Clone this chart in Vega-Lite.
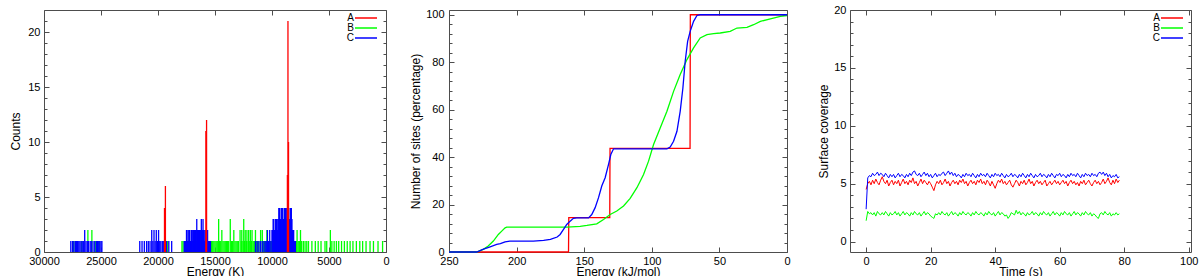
{
"$schema": "https://vega.github.io/schema/vega-lite/v6.json",
"padding": {"left": 9, "top": 3, "right": 0, "bottom": 0},
"bounds": "flush",
"spacing": 63,
"config": {
 "font": "Liberation Sans",
 "view": {"stroke": "#4d4d4d", "strokeWidth": 1},
 "axis": {"labelFont": "Liberation Sans", "labelFontSize": 11, "labelColor": "#000", "titleFont": "Liberation Sans", "titleFontSize": 12, "titleFontWeight": "normal", "titleColor": "#000", "domain": false, "grid": false, "tickColor": "#4d4d4d", "tickWidth": 1, "labelFlush": false, "labelOverlap": false, "format": "d"},
 "legend": {"labelFont": "Liberation Sans"}
},
"resolve": {"scale": {"color": "independent"}, "legend": {"color": "independent"}},
"datasets": {
 "hist": [
  {"s":"B","e":27400,"n":1},{"s":"B","e":27250,"n":1},{"s":"B","e":26700,"n":1},{"s":"B","e":26150,"n":2},{"s":"B","e":25800,"n":2},{"s":"B","e":25500,"n":1},{"s":"B","e":25150,"n":1},{"s":"B","e":19150,"n":1},
  {"s":"B","e":17900,"n":1},{"s":"B","e":17800,"n":1},{"s":"B","e":17650,"n":1},{"s":"B","e":17500,"n":1},{"s":"B","e":17350,"n":1},{"s":"B","e":17200,"n":1},{"s":"B","e":17050,"n":1},{"s":"B","e":16900,"n":1},{"s":"B","e":16750,"n":1},{"s":"B","e":16600,"n":1},{"s":"B","e":16450,"n":1},{"s":"B","e":16300,"n":1},{"s":"B","e":16150,"n":1},{"s":"B","e":16000,"n":1},{"s":"B","e":15850,"n":1},{"s":"B","e":15700,"n":1},{"s":"B","e":15550,"n":1},{"s":"B","e":15400,"n":1},{"s":"B","e":15300,"n":1},{"s":"B","e":15200,"n":1},{"s":"B","e":15100,"n":1},{"s":"B","e":15000,"n":1},{"s":"B","e":14900,"n":1},{"s":"B","e":14800,"n":1},{"s":"B","e":14680,"n":3},{"s":"B","e":14600,"n":1},{"s":"B","e":14500,"n":1},{"s":"B","e":14400,"n":2},{"s":"B","e":14300,"n":1},{"s":"B","e":14200,"n":1},{"s":"B","e":14100,"n":1},{"s":"B","e":14000,"n":1},{"s":"B","e":13900,"n":1},{"s":"B","e":13800,"n":1},{"s":"B","e":13660,"n":3},{"s":"B","e":13550,"n":1},{"s":"B","e":13450,"n":1},{"s":"B","e":13350,"n":2},{"s":"B","e":13250,"n":1},{"s":"B","e":13150,"n":1},{"s":"B","e":13050,"n":1},{"s":"B","e":12950,"n":1},{"s":"B","e":12800,"n":2},{"s":"B","e":12700,"n":1},{"s":"B","e":12650,"n":2},{"s":"B","e":12550,"n":1},{"s":"B","e":12480,"n":3},{"s":"B","e":12400,"n":1},{"s":"B","e":12350,"n":2},{"s":"B","e":12250,"n":1},{"s":"B","e":12200,"n":2},{"s":"B","e":12100,"n":1},{"s":"B","e":12050,"n":2},{"s":"B","e":11950,"n":1},{"s":"B","e":11900,"n":2},{"s":"B","e":11800,"n":1},{"s":"B","e":11750,"n":2},{"s":"B","e":11650,"n":1},{"s":"B","e":11550,"n":1},{"s":"B","e":11450,"n":2},{"s":"B","e":11350,"n":1},{"s":"B","e":11250,"n":1},{"s":"B","e":11150,"n":1},{"s":"B","e":11000,"n":2},{"s":"B","e":10850,"n":2},{"s":"B","e":10750,"n":1},{"s":"B","e":10650,"n":1},{"s":"B","e":10550,"n":1},{"s":"B","e":10450,"n":2},{"s":"B","e":10350,"n":1},{"s":"B","e":10250,"n":1},{"s":"B","e":10150,"n":1},{"s":"B","e":10050,"n":1},{"s":"B","e":9950,"n":1},{"s":"B","e":9850,"n":2},{"s":"B","e":9750,"n":1},{"s":"B","e":9650,"n":1},{"s":"B","e":9550,"n":1},{"s":"B","e":9450,"n":1},{"s":"B","e":9350,"n":1},{"s":"B","e":9250,"n":1},{"s":"B","e":9150,"n":1},{"s":"B","e":9050,"n":1},{"s":"B","e":8950,"n":1},{"s":"B","e":8850,"n":1},{"s":"B","e":8750,"n":1},{"s":"B","e":8650,"n":1},{"s":"B","e":8550,"n":1},{"s":"B","e":8450,"n":1},{"s":"B","e":8350,"n":1},{"s":"B","e":8250,"n":1},{"s":"B","e":8150,"n":1},{"s":"B","e":8050,"n":1},{"s":"B","e":7950,"n":1},{"s":"B","e":7850,"n":1},{"s":"B","e":7800,"n":2},{"s":"B","e":7700,"n":1},{"s":"B","e":7600,"n":1},{"s":"B","e":7500,"n":2},{"s":"B","e":7400,"n":1},{"s":"B","e":7250,"n":1},{"s":"B","e":7100,"n":1},{"s":"B","e":6950,"n":1},{"s":"B","e":6800,"n":1},{"s":"B","e":6500,"n":1},{"s":"B","e":6200,"n":1},{"s":"B","e":5950,"n":1},{"s":"B","e":5700,"n":1},{"s":"B","e":5350,"n":1},{"s":"B","e":5200,"n":1},{"s":"B","e":4880,"n":2},{"s":"B","e":4750,"n":1},{"s":"B","e":4550,"n":1},{"s":"B","e":4350,"n":1},{"s":"B","e":4150,"n":1},{"s":"B","e":3900,"n":1},{"s":"B","e":3650,"n":1},{"s":"B","e":3400,"n":1},{"s":"B","e":3150,"n":1},{"s":"B","e":2900,"n":1},{"s":"B","e":2600,"n":1},{"s":"B","e":2300,"n":1},{"s":"B","e":2050,"n":1},{"s":"B","e":1750,"n":1},{"s":"B","e":1400,"n":1},{"s":"B","e":1100,"n":1},{"s":"B","e":700,"n":1},{"s":"B","e":300,"n":1},
  {"s":"C","e":27650,"n":1},{"s":"C","e":27500,"n":1},{"s":"C","e":27380,"n":1},{"s":"C","e":27250,"n":1},{"s":"C","e":27150,"n":1},{"s":"C","e":27050,"n":1},{"s":"C","e":26950,"n":1},{"s":"C","e":26850,"n":1},{"s":"C","e":26750,"n":1},{"s":"C","e":26650,"n":1},{"s":"C","e":26550,"n":1},{"s":"C","e":26430,"n":2},{"s":"C","e":26320,"n":1},{"s":"C","e":26200,"n":1},{"s":"C","e":26100,"n":1},{"s":"C","e":25950,"n":1},{"s":"C","e":25850,"n":1},{"s":"C","e":25700,"n":1},{"s":"C","e":25550,"n":1},{"s":"C","e":25400,"n":1},{"s":"C","e":25300,"n":1},{"s":"C","e":25200,"n":1},{"s":"C","e":25100,"n":1},{"s":"C","e":25000,"n":1},{"s":"C","e":24920,"n":1},
  {"s":"C","e":21600,"n":1},{"s":"C","e":21400,"n":1},{"s":"C","e":21200,"n":1},{"s":"C","e":21000,"n":1},{"s":"C","e":20850,"n":1},{"s":"C","e":20700,"n":1},{"s":"C","e":20550,"n":2},{"s":"C","e":20450,"n":1},{"s":"C","e":20350,"n":2},{"s":"C","e":20250,"n":1},{"s":"C","e":20150,"n":2},{"s":"C","e":20050,"n":1},{"s":"C","e":19950,"n":2},{"s":"C","e":19850,"n":1},{"s":"C","e":19750,"n":1},{"s":"C","e":19620,"n":1},{"s":"C","e":19500,"n":1},{"s":"C","e":19250,"n":1},{"s":"C","e":19050,"n":1},{"s":"C","e":18800,"n":1},
  {"s":"C","e":17700,"n":1},{"s":"C","e":17650,"n":1},{"s":"C","e":17600,"n":1},{"s":"C","e":17550,"n":1},{"s":"C","e":17500,"n":2},{"s":"C","e":17450,"n":2},{"s":"C","e":17400,"n":1},{"s":"C","e":17350,"n":1},{"s":"C","e":17300,"n":2},{"s":"C","e":17250,"n":2},{"s":"C","e":17200,"n":1},{"s":"C","e":17150,"n":1},{"s":"C","e":17100,"n":2},{"s":"C","e":17050,"n":2},{"s":"C","e":17000,"n":1},{"s":"C","e":16950,"n":2},{"s":"C","e":16900,"n":2},{"s":"C","e":16850,"n":1},{"s":"C","e":16800,"n":2},{"s":"C","e":16750,"n":2},{"s":"C","e":16700,"n":2},{"s":"C","e":16650,"n":2},{"s":"C","e":16600,"n":3},{"s":"C","e":16550,"n":2},{"s":"C","e":16500,"n":2},{"s":"C","e":16450,"n":2},{"s":"C","e":16400,"n":2},{"s":"C","e":16350,"n":2},{"s":"C","e":16300,"n":2},{"s":"C","e":16250,"n":2},{"s":"C","e":16200,"n":3},{"s":"C","e":16150,"n":2},{"s":"C","e":16100,"n":2},{"s":"C","e":16050,"n":3},{"s":"C","e":16000,"n":2},{"s":"C","e":15950,"n":2},{"s":"C","e":15900,"n":1},{"s":"C","e":15850,"n":2},{"s":"C","e":15800,"n":2},{"s":"C","e":15750,"n":2},{"s":"C","e":15700,"n":2},{"s":"C","e":15650,"n":2},{"s":"C","e":15600,"n":1},{"s":"C","e":15550,"n":1},{"s":"C","e":15500,"n":1},{"s":"C","e":15450,"n":1},{"s":"C","e":15400,"n":1},
  {"s":"C","e":11450,"n":1},{"s":"C","e":11300,"n":1},{"s":"C","e":11150,"n":1},{"s":"C","e":11000,"n":1},{"s":"C","e":10850,"n":1},{"s":"C","e":10700,"n":1},{"s":"C","e":10600,"n":1},{"s":"C","e":10500,"n":1},{"s":"C","e":10400,"n":2},{"s":"C","e":10300,"n":1},{"s":"C","e":10200,"n":2},{"s":"C","e":10100,"n":1},{"s":"C","e":10000,"n":2},{"s":"C","e":9950,"n":2},{"s":"C","e":9900,"n":3},{"s":"C","e":9850,"n":3},{"s":"C","e":9800,"n":2},{"s":"C","e":9750,"n":2},{"s":"C","e":9700,"n":3},{"s":"C","e":9650,"n":2},{"s":"C","e":9600,"n":3},{"s":"C","e":9550,"n":3},{"s":"C","e":9500,"n":2},{"s":"C","e":9450,"n":3},{"s":"C","e":9400,"n":4},{"s":"C","e":9350,"n":4},{"s":"C","e":9300,"n":3},{"s":"C","e":9250,"n":3},{"s":"C","e":9200,"n":4},{"s":"C","e":9150,"n":4},{"s":"C","e":9100,"n":4},{"s":"C","e":9050,"n":4},{"s":"C","e":9000,"n":3},{"s":"C","e":8950,"n":3},{"s":"C","e":8900,"n":4},{"s":"C","e":8850,"n":4},{"s":"C","e":8800,"n":4},{"s":"C","e":8750,"n":4},{"s":"C","e":8700,"n":3},{"s":"C","e":8650,"n":3},{"s":"C","e":8600,"n":4},{"s":"C","e":8550,"n":4},{"s":"C","e":8500,"n":3},{"s":"C","e":8450,"n":3},{"s":"C","e":8400,"n":4},{"s":"C","e":8350,"n":4},{"s":"C","e":8300,"n":4},{"s":"C","e":8250,"n":3},{"s":"C","e":8200,"n":2},{"s":"C","e":8150,"n":2},{"s":"C","e":8100,"n":2},{"s":"C","e":8050,"n":1},{"s":"C","e":8000,"n":1},{"s":"C","e":7950,"n":1},
  {"s":"A","e":19430,"n":4},{"s":"A","e":19350,"n":6},{"s":"A","e":15800,"n":11},{"s":"A","e":15740,"n":12},{"s":"A","e":8650,"n":7},{"s":"A","e":8600,"n":21},{"s":"A","e":8550,"n":10}
 ],
 "cdf": [
  {"s":"A","e":250,"v":0},{"s":"A","e":161.6,"v":0},{"s":"A","e":161.4,"v":14.5},{"s":"A","e":131.1,"v":14.5},{"s":"A","e":130.9,"v":43.7},{"s":"A","e":71.7,"v":43.7},{"s":"A","e":71.5,"v":100},{"s":"A","e":0,"v":100},
  {"s":"B","e":250,"v":0},{"s":"B","e":229.5,"v":0},{"s":"B","e":224.6,"v":1.1},{"s":"B","e":221,"v":2.5},{"s":"B","e":217.2,"v":4.6},{"s":"B","e":213.5,"v":7.4},{"s":"B","e":211,"v":8.8},{"s":"B","e":208.5,"v":10.2},{"s":"B","e":207.3,"v":10.5},{"s":"B","e":162.9,"v":10.5},{"s":"B","e":153,"v":10.8},{"s":"B","e":148,"v":11.2},{"s":"B","e":140.7,"v":11.9},{"s":"B","e":135.7,"v":13.7},{"s":"B","e":130.8,"v":15.8},{"s":"B","e":125.9,"v":17.3},{"s":"B","e":120.9,"v":19.4},{"s":"B","e":116,"v":22.6},{"s":"B","e":111,"v":27.1},{"s":"B","e":106.1,"v":32.7},{"s":"B","e":102.4,"v":38.3},{"s":"B","e":98.7,"v":45.3},{"s":"B","e":93.8,"v":52.3},{"s":"B","e":88.8,"v":59.3},{"s":"B","e":83.9,"v":67.7},{"s":"B","e":79,"v":74.8},{"s":"B","e":74,"v":81.1},{"s":"B","e":69.1,"v":86},{"s":"B","e":64.2,"v":90.2},{"s":"B","e":59.2,"v":91.6},{"s":"B","e":54.3,"v":92},{"s":"B","e":49.4,"v":92.3},{"s":"B","e":42,"v":93},{"s":"B","e":37,"v":94.4},{"s":"B","e":29.6,"v":94.7},{"s":"B","e":24.7,"v":95.8},{"s":"B","e":19.7,"v":97.2},{"s":"B","e":12.3,"v":98.3},{"s":"B","e":4.9,"v":99.3},{"s":"B","e":0,"v":99.6},
  {"s":"C","e":250,"v":0},{"s":"C","e":229.5,"v":0},{"s":"C","e":225,"v":1.1},{"s":"C","e":219.6,"v":2.2},{"s":"C","e":214.7,"v":3.2},{"s":"C","e":212,"v":3.5},{"s":"C","e":208.5,"v":4.3},{"s":"C","e":205,"v":4.6},{"s":"C","e":187.6,"v":4.6},{"s":"C","e":180,"v":4.9},{"s":"C","e":175,"v":5.3},{"s":"C","e":170,"v":6.3},{"s":"C","e":167.8,"v":7.4},{"s":"C","e":165.3,"v":9.5},{"s":"C","e":162.9,"v":11.6},{"s":"C","e":160.4,"v":13},{"s":"C","e":158,"v":14.2},{"s":"C","e":155.5,"v":14.4},{"s":"C","e":146.8,"v":14.4},{"s":"C","e":144.4,"v":15.8},{"s":"C","e":141.9,"v":18.7},{"s":"C","e":139.4,"v":22.9},{"s":"C","e":137,"v":27.8},{"s":"C","e":134.5,"v":31.3},{"s":"C","e":132,"v":36.9},{"s":"C","e":130.3,"v":41.1},{"s":"C","e":128.3,"v":43.5},{"s":"C","e":88.8,"v":43.5},{"s":"C","e":86.4,"v":44.2},{"s":"C","e":83.9,"v":46.7},{"s":"C","e":81.4,"v":50.9},{"s":"C","e":79,"v":59.3},{"s":"C","e":77,"v":69.1},{"s":"C","e":75.3,"v":80.4},{"s":"C","e":73.5,"v":88.8},{"s":"C","e":71.6,"v":93},{"s":"C","e":69.1,"v":97.2},{"s":"C","e":66.6,"v":99.7},{"s":"C","e":64.2,"v":100},{"s":"C","e":0,"v":100}
 ],
 "cov": [
  {"t":0,"A":4.5,"B":1.8,"C":2.8},{"t":0.5,"A":5.0,"B":2.6,"C":5.5},{"t":1,"A":5.2,"B":2.4,"C":5.7},{"t":1.5,"A":4.9,"B":2.5,"C":5.6},{"t":2,"A":5.3,"B":2.3,"C":5.9},{"t":2.5,"A":5.0,"B":2.5,"C":5.7},{"t":3,"A":5.4,"B":2.2,"C":5.8},{"t":3.5,"A":5.1,"B":2.6,"C":6.0},{"t":4,"A":4.9,"B":2.4,"C":5.7},{"t":4.5,"A":5.3,"B":2.3,"C":5.9},
  {"t":5,"A":5.6,"B":2.5,"C":5.8},{"t":5.5,"A":5.2,"B":2.3,"C":5.6},{"t":6,"A":5.0,"B":2.6,"C":5.9},{"t":6.5,"A":5.3,"B":2.4,"C":5.7},{"t":7,"A":4.8,"B":2.2,"C":5.5},{"t":7.5,"A":5.1,"B":2.5,"C":5.8},{"t":8,"A":5.3,"B":2.3,"C":5.6},{"t":8.5,"A":4.9,"B":2.4,"C":5.8},{"t":9,"A":5.2,"B":2.6,"C":5.5},{"t":9.5,"A":5.0,"B":2.3,"C":5.7},
  {"t":10,"A":5.3,"B":2.5,"C":5.9},{"t":10.5,"A":4.8,"B":2.2,"C":5.6},{"t":11,"A":5.1,"B":2.4,"C":5.8},{"t":11.5,"A":5.4,"B":2.6,"C":5.7},{"t":12,"A":5.0,"B":2.3,"C":5.5},{"t":12.5,"A":5.2,"B":2.5,"C":5.8},{"t":13,"A":4.9,"B":2.4,"C":5.6},{"t":13.5,"A":5.3,"B":2.2,"C":5.9},{"t":14,"A":5.1,"B":2.5,"C":5.7},{"t":14.5,"A":5.5,"B":2.3,"C":6.0},
  {"t":15,"A":5.0,"B":2.6,"C":6.1},{"t":15.5,"A":5.2,"B":2.4,"C":5.8},{"t":16,"A":4.8,"B":2.3,"C":5.7},{"t":16.5,"A":5.1,"B":2.5,"C":5.9},{"t":17,"A":5.4,"B":2.2,"C":5.6},{"t":17.5,"A":5.0,"B":2.4,"C":5.8},{"t":18,"A":5.3,"B":2.6,"C":6.0},{"t":18.5,"A":5.1,"B":2.3,"C":5.7},{"t":19,"A":4.9,"B":2.5,"C":5.9},{"t":19.5,"A":5.2,"B":2.4,"C":5.6},
  {"t":20,"A":5.0,"B":2.2,"C":5.8},{"t":20.5,"A":4.7,"B":2.1,"C":5.5},{"t":21,"A":4.4,"B":2.0,"C":5.7},{"t":21.5,"A":4.9,"B":2.4,"C":5.9},{"t":22,"A":5.2,"B":2.3,"C":5.6},{"t":22.5,"A":5.0,"B":2.5,"C":5.8},{"t":23,"A":5.3,"B":2.3,"C":5.7},{"t":23.5,"A":4.9,"B":2.6,"C":5.9},{"t":24,"A":5.1,"B":2.4,"C":6.0},{"t":24.5,"A":5.4,"B":2.3,"C":5.7},
  {"t":25,"A":5.0,"B":2.5,"C":5.9},{"t":25.5,"A":5.2,"B":2.2,"C":6.1},{"t":26,"A":4.8,"B":2.4,"C":5.8},{"t":26.5,"A":5.1,"B":2.6,"C":6.0},{"t":27,"A":5.3,"B":2.3,"C":5.7},{"t":27.5,"A":5.0,"B":2.5,"C":5.9},{"t":28,"A":5.2,"B":2.4,"C":5.6},{"t":28.5,"A":4.9,"B":2.2,"C":5.8},{"t":29,"A":5.3,"B":2.5,"C":5.7},{"t":29.5,"A":5.1,"B":2.3,"C":5.5},
  {"t":30,"A":5.4,"B":2.6,"C":5.8},{"t":30.5,"A":5.0,"B":2.4,"C":5.6},{"t":31,"A":5.2,"B":2.3,"C":5.9},{"t":31.5,"A":4.8,"B":2.5,"C":5.7},{"t":32,"A":5.1,"B":2.4,"C":5.8},{"t":32.5,"A":5.3,"B":2.2,"C":5.6},{"t":33,"A":5.0,"B":2.5,"C":5.9},{"t":33.5,"A":5.2,"B":2.3,"C":5.7},{"t":34,"A":4.9,"B":2.6,"C":5.5},{"t":34.5,"A":5.3,"B":2.4,"C":5.8},
  {"t":35,"A":5.1,"B":2.3,"C":5.6},{"t":35.5,"A":5.4,"B":2.5,"C":5.9},{"t":36,"A":5.0,"B":2.4,"C":5.7},{"t":36.5,"A":5.2,"B":2.2,"C":5.8},{"t":37,"A":4.9,"B":2.5,"C":5.6},{"t":37.5,"A":5.3,"B":2.3,"C":5.9},{"t":38,"A":5.1,"B":2.6,"C":5.7},{"t":38.5,"A":4.8,"B":2.4,"C":5.5},{"t":39,"A":5.2,"B":2.3,"C":5.8},{"t":39.5,"A":4.9,"B":2.5,"C":5.6},
  {"t":40,"A":4.6,"B":2.2,"C":5.9},{"t":40.5,"A":5.0,"B":2.4,"C":5.7},{"t":41,"A":5.3,"B":2.6,"C":5.8},{"t":41.5,"A":5.1,"B":2.3,"C":5.6},{"t":42,"A":5.4,"B":2.5,"C":5.9},{"t":42.5,"A":5.0,"B":2.4,"C":5.7},{"t":43,"A":5.2,"B":2.2,"C":5.5},{"t":43.5,"A":4.9,"B":2.3,"C":5.8},{"t":44,"A":5.1,"B":2.0,"C":5.6},{"t":44.5,"A":5.3,"B":2.2,"C":5.7},
  {"t":45,"A":4.9,"B":2.5,"C":5.9},{"t":45.5,"A":4.7,"B":2.4,"C":5.6},{"t":46,"A":5.0,"B":2.3,"C":5.8},{"t":46.5,"A":5.3,"B":2.7,"C":5.7},{"t":47,"A":5.1,"B":2.4,"C":5.5},{"t":47.5,"A":4.8,"B":2.6,"C":5.8},{"t":48,"A":5.2,"B":2.3,"C":5.6},{"t":48.5,"A":5.0,"B":2.5,"C":5.9},{"t":49,"A":5.3,"B":2.4,"C":5.7},{"t":49.5,"A":4.9,"B":2.2,"C":5.5},
  {"t":50,"A":5.1,"B":2.5,"C":5.8},{"t":50.5,"A":5.4,"B":2.3,"C":5.6},{"t":51,"A":5.0,"B":2.4,"C":5.9},{"t":51.5,"A":5.2,"B":2.6,"C":5.7},{"t":52,"A":4.8,"B":2.3,"C":5.5},{"t":52.5,"A":5.1,"B":2.5,"C":5.8},{"t":53,"A":5.3,"B":2.4,"C":5.6},{"t":53.5,"A":5.0,"B":2.2,"C":5.7},{"t":54,"A":5.2,"B":2.5,"C":5.9},{"t":54.5,"A":4.9,"B":2.3,"C":5.6},
  {"t":55,"A":5.1,"B":2.6,"C":5.8},{"t":55.5,"A":5.3,"B":2.4,"C":5.7},{"t":56,"A":4.8,"B":2.3,"C":5.5},{"t":56.5,"A":5.0,"B":2.5,"C":5.8},{"t":57,"A":5.2,"B":2.2,"C":5.6},{"t":57.5,"A":4.9,"B":2.4,"C":5.9},{"t":58,"A":5.1,"B":2.6,"C":5.7},{"t":58.5,"A":5.3,"B":2.3,"C":5.5},{"t":59,"A":5.0,"B":2.5,"C":5.8},{"t":59.5,"A":5.2,"B":2.4,"C":5.7},
  {"t":60,"A":4.9,"B":2.2,"C":5.9},{"t":60.5,"A":5.1,"B":2.5,"C":5.6},{"t":61,"A":5.3,"B":2.3,"C":5.8},{"t":61.5,"A":5.0,"B":2.6,"C":5.7},{"t":62,"A":5.2,"B":2.4,"C":5.5},{"t":62.5,"A":4.8,"B":2.3,"C":5.8},{"t":63,"A":5.1,"B":2.5,"C":5.6},{"t":63.5,"A":5.3,"B":2.2,"C":5.9},{"t":64,"A":5.0,"B":2.4,"C":5.7},{"t":64.5,"A":5.2,"B":2.6,"C":5.8},
  {"t":65,"A":4.9,"B":2.3,"C":5.6},{"t":65.5,"A":5.1,"B":2.5,"C":5.9},{"t":66,"A":4.8,"B":2.4,"C":5.7},{"t":66.5,"A":5.2,"B":2.2,"C":5.5},{"t":67,"A":5.0,"B":2.5,"C":5.8},{"t":67.5,"A":5.3,"B":2.3,"C":5.6},{"t":68,"A":4.9,"B":2.6,"C":5.9},{"t":68.5,"A":5.1,"B":2.4,"C":5.7},{"t":69,"A":5.3,"B":2.3,"C":5.8},{"t":69.5,"A":5.0,"B":2.5,"C":5.6},
  {"t":70,"A":4.8,"B":2.2,"C":5.9},{"t":70.5,"A":5.1,"B":2.4,"C":5.7},{"t":71,"A":5.3,"B":2.3,"C":5.8},{"t":71.5,"A":5.0,"B":2.1,"C":5.6},{"t":72,"A":5.2,"B":2.0,"C":5.9},{"t":72.5,"A":4.9,"B":2.4,"C":6.0},{"t":73,"A":5.1,"B":2.5,"C":5.8},{"t":73.5,"A":5.4,"B":2.3,"C":6.0},{"t":74,"A":5.0,"B":2.6,"C":5.7},{"t":74.5,"A":5.2,"B":2.4,"C":5.9},
  {"t":75,"A":5.5,"B":2.3,"C":5.6},{"t":75.5,"A":5.1,"B":2.5,"C":5.8},{"t":76,"A":4.9,"B":2.2,"C":5.5},{"t":76.5,"A":5.3,"B":2.4,"C":5.7},{"t":77,"A":5.0,"B":2.3,"C":5.6},{"t":77.5,"A":5.4,"B":2.5,"C":5.8},{"t":78,"A":5.1,"B":2.3,"C":5.5},{"t":78.5,"A":5.3,"B":2.4,"C":5.6}
 ]
},
"hconcat": [
 {
  "width": 342, "height": 242,
  "resolve": {"axis": {"x": "independent", "y": "independent"}},
  "layer": [
   {"data": {"name": "hist"}, "mark": {"type": "rule", "strokeWidth": 1.3},
    "encoding": {
     "x": {"field": "e", "type": "quantitative", "scale": {"domain": [30000, 0], "nice": false, "zero": false},
      "axis": {"orient": "bottom", "values": [30000, 25000, 20000, 15000, 10000, 5000, 0], "ticks": false, "title": "Energy (K)", "labelPadding": 3, "titlePadding": 0}},
     "y": {"field": "n", "type": "quantitative", "scale": {"domain": [0, 22], "nice": false},
      "axis": {"orient": "left", "values": [0, 5, 10, 15, 20], "ticks": false, "title": "Counts", "labelPadding": 4, "titlePadding": 5}},
     "y2": {"datum": 0},
     "color": {"field": "s", "type": "nominal", "scale": {"domain": ["A", "B", "C"], "range": ["#ff0000", "#00ff00", "#0000ff"]},
      "legend": {"orient": "none", "legendX": 317, "legendY": 3, "title": null, "symbolType": "M-2.75,0H2.75", "symbolSize": 64, "symbolStrokeWidth": 1.5, "labelOffset": -17, "labelAlign": "right", "labelFontSize": 10, "rowPadding": -5, "padding": 0}}
    }},
   {"data": {"name": "hist"}, "transform": [{"filter": "false"}], "mark": "point",
    "encoding": {
     "x": {"field": "e", "type": "quantitative", "scale": {"domain": [30000, 0], "nice": false, "zero": false},
      "axis": {"orient": "bottom", "values": [30000, 25000, 20000, 15000, 10000, 5000, 0], "labels": false, "title": null, "tickSize": -5}},
     "y": {"field": "n", "type": "quantitative", "scale": {"domain": [0, 22], "nice": false},
      "axis": {"orient": "left", "values": [0, 5, 10, 15, 20], "labels": false, "title": null, "tickSize": -5}}
    }},
   {"data": {"name": "hist"}, "transform": [{"filter": "false"}], "mark": "point",
    "encoding": {
     "x": {"field": "e", "type": "quantitative", "scale": {"domain": [30000, 0], "nice": false, "zero": false},
      "axis": {"orient": "top", "values": [30000, 25000, 20000, 15000, 10000, 5000, 0], "labels": false, "title": null, "tickSize": -5}},
     "y": {"field": "n", "type": "quantitative", "scale": {"domain": [0, 22], "nice": false},
      "axis": {"orient": "right", "values": [0, 5, 10, 15, 20], "labels": false, "title": null, "tickSize": -5}}
    }},
   {"data": {"name": "hist"}, "transform": [{"filter": "false"}], "mark": "point",
    "encoding": {
     "x": {"field": "e", "type": "quantitative", "scale": {"domain": [30000, 0], "nice": false, "zero": false}, "axis": null},
     "y": {"field": "n", "type": "quantitative", "scale": {"domain": [0, 22], "nice": false},
      "axis": {"orient": "left", "values": [1, 2, 3, 4, 6, 7, 8, 9, 11, 12, 13, 14, 16, 17, 18, 19, 21], "labels": false, "title": null, "tickSize": -3}}
    }},
   {"data": {"name": "hist"}, "transform": [{"filter": "false"}], "mark": "point",
    "encoding": {
     "x": {"field": "e", "type": "quantitative", "scale": {"domain": [30000, 0], "nice": false, "zero": false}, "axis": null},
     "y": {"field": "n", "type": "quantitative", "scale": {"domain": [0, 22], "nice": false},
      "axis": {"orient": "right", "values": [1, 2, 3, 4, 6, 7, 8, 9, 11, 12, 13, 14, 16, 17, 18, 19, 21], "labels": false, "title": null, "tickSize": -3}}
    }}
  ]
 },
 {
  "width": 338, "height": 242,
  "resolve": {"axis": {"x": "independent", "y": "independent"}},
  "layer": [
   {"data": {"name": "cdf"}, "mark": {"type": "line", "strokeWidth": 1.3},
    "encoding": {
     "x": {"field": "e", "type": "quantitative", "scale": {"domain": [250, 0], "nice": false, "zero": false},
      "axis": {"orient": "bottom", "values": [250, 200, 150, 100, 50, 0], "ticks": false, "title": "Energy (kJ/mol)", "labelPadding": 3, "titlePadding": 0}},
     "y": {"field": "v", "type": "quantitative", "scale": {"domain": [0, 102], "nice": false},
      "axis": {"orient": "left", "values": [0, 20, 40, 60, 80, 100], "ticks": false, "title": "Number of sites (percentage)", "labelPadding": 5, "titlePadding": 3}},
     "color": {"field": "s", "type": "nominal", "scale": {"domain": ["A", "B", "C"], "range": ["#ff0000", "#00ff00", "#0000ff"]}, "legend": null}
    }},
   {"data": {"name": "cdf"}, "transform": [{"filter": "false"}], "mark": "point",
    "encoding": {
     "x": {"field": "e", "type": "quantitative", "scale": {"domain": [250, 0], "nice": false, "zero": false},
      "axis": {"orient": "bottom", "values": [250, 200, 150, 100, 50, 0], "labels": false, "title": null, "tickSize": -5}},
     "y": {"field": "v", "type": "quantitative", "scale": {"domain": [0, 102], "nice": false},
      "axis": {"orient": "left", "values": [0, 20, 40, 60, 80, 100], "labels": false, "title": null, "tickSize": -5}}
    }},
   {"data": {"name": "cdf"}, "transform": [{"filter": "false"}], "mark": "point",
    "encoding": {
     "x": {"field": "e", "type": "quantitative", "scale": {"domain": [250, 0], "nice": false, "zero": false},
      "axis": {"orient": "top", "values": [250, 200, 150, 100, 50, 0], "labels": false, "title": null, "tickSize": -5}},
     "y": {"field": "v", "type": "quantitative", "scale": {"domain": [0, 102], "nice": false},
      "axis": {"orient": "right", "values": [0, 20, 40, 60, 80, 100], "labels": false, "title": null, "tickSize": -5}}
    }},
   {"data": {"name": "cdf"}, "transform": [{"filter": "false"}], "mark": "point",
    "encoding": {
     "x": {"field": "e", "type": "quantitative", "scale": {"domain": [250, 0], "nice": false, "zero": false}, "axis": null},
     "y": {"field": "v", "type": "quantitative", "scale": {"domain": [0, 102], "nice": false},
      "axis": {"orient": "left", "values": [4, 8, 12, 16, 24, 28, 32, 36, 44, 48, 52, 56, 64, 68, 72, 76, 84, 88, 92, 96], "labels": false, "title": null, "tickSize": -3}}
    }},
   {"data": {"name": "cdf"}, "transform": [{"filter": "false"}], "mark": "point",
    "encoding": {
     "x": {"field": "e", "type": "quantitative", "scale": {"domain": [250, 0], "nice": false, "zero": false}, "axis": null},
     "y": {"field": "v", "type": "quantitative", "scale": {"domain": [0, 102], "nice": false},
      "axis": {"orient": "right", "values": [4, 8, 12, 16, 24, 28, 32, 36, 44, 48, 52, 56, 64, 68, 72, 76, 84, 88, 92, 96], "labels": false, "title": null, "tickSize": -3}}
    }}
  ]
 },
 {
  "width": 341, "height": 242,
  "resolve": {"axis": {"x": "independent", "y": "independent"}},
  "layer": [
   {"data": {"name": "cov"}, "transform": [{"fold": ["A", "B", "C"], "as": ["s", "v"]}], "mark": {"type": "line", "strokeWidth": 1},
    "encoding": {
     "x": {"field": "t", "type": "quantitative", "scale": {"domain": [-5, 100.7], "nice": false, "zero": false},
      "axis": {"orient": "bottom", "values": [0, 20, 40, 60, 80, 100], "ticks": false, "title": "Time (s)", "labelPadding": 3, "titlePadding": 0}},
     "y": {"field": "v", "type": "quantitative", "scale": {"domain": [-0.9, 20], "nice": false, "zero": false},
      "axis": {"orient": "left", "values": [0, 5, 10, 15, 20], "ticks": false, "title": "Surface coverage", "labelPadding": 4, "titlePadding": 3}},
     "color": {"field": "s", "type": "nominal", "scale": {"domain": ["A", "B", "C"], "range": ["#ff0000", "#00ff00", "#0000ff"]},
      "legend": {"orient": "none", "legendX": 317, "legendY": 3, "title": null, "symbolType": "M-2.75,0H2.75", "symbolSize": 64, "symbolStrokeWidth": 1.5, "labelOffset": -17, "labelAlign": "right", "labelFontSize": 10, "rowPadding": -5, "padding": 0}}
    }},
   {"data": {"name": "cov"}, "transform": [{"filter": "false"}], "mark": "point",
    "encoding": {
     "x": {"field": "t", "type": "quantitative", "scale": {"domain": [-5, 100.7], "nice": false, "zero": false},
      "axis": {"orient": "bottom", "values": [0, 20, 40, 60, 80, 100], "labels": false, "title": null, "tickSize": -5}},
     "y": {"field": "A", "type": "quantitative", "scale": {"domain": [-0.9, 20], "nice": false, "zero": false},
      "axis": {"orient": "left", "values": [0, 5, 10, 15, 20], "labels": false, "title": null, "tickSize": -5}}
    }},
   {"data": {"name": "cov"}, "transform": [{"filter": "false"}], "mark": "point",
    "encoding": {
     "x": {"field": "t", "type": "quantitative", "scale": {"domain": [-5, 100.7], "nice": false, "zero": false},
      "axis": {"orient": "top", "values": [0, 20, 40, 60, 80, 100], "labels": false, "title": null, "tickSize": -5}},
     "y": {"field": "A", "type": "quantitative", "scale": {"domain": [-0.9, 20], "nice": false, "zero": false},
      "axis": {"orient": "right", "values": [0, 5, 10, 15, 20], "labels": false, "title": null, "tickSize": -5}}
    }},
   {"data": {"name": "cov"}, "transform": [{"filter": "false"}], "mark": "point",
    "encoding": {
     "x": {"field": "t", "type": "quantitative", "scale": {"domain": [-5, 100.7], "nice": false, "zero": false}, "axis": null},
     "y": {"field": "A", "type": "quantitative", "scale": {"domain": [-0.9, 20], "nice": false, "zero": false},
      "axis": {"orient": "left", "values": [1, 2, 3, 4, 6, 7, 8, 9, 11, 12, 13, 14, 16, 17, 18, 19], "labels": false, "title": null, "tickSize": -3}}
    }},
   {"data": {"name": "cov"}, "transform": [{"filter": "false"}], "mark": "point",
    "encoding": {
     "x": {"field": "t", "type": "quantitative", "scale": {"domain": [-5, 100.7], "nice": false, "zero": false}, "axis": null},
     "y": {"field": "A", "type": "quantitative", "scale": {"domain": [-0.9, 20], "nice": false, "zero": false},
      "axis": {"orient": "right", "values": [1, 2, 3, 4, 6, 7, 8, 9, 11, 12, 13, 14, 16, 17, 18, 19], "labels": false, "title": null, "tickSize": -3}}
    }}
  ]
 }
]
}
